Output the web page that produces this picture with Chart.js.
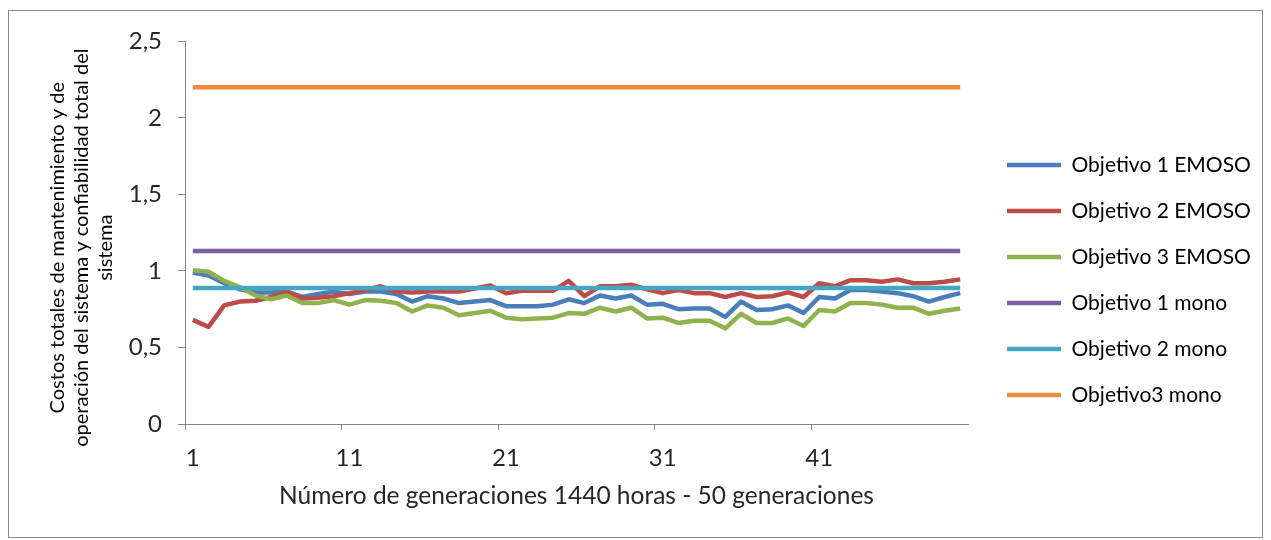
<!DOCTYPE html>
<html>
<head>
<meta charset="utf-8">
<script src="https://cdn.jsdelivr.net/npm/chart.js@4.4.1/dist/chart.umd.min.js"></script>
<style>
  html, body { margin: 0; padding: 0; background: #fff; }
  #frame { position: absolute; left: 8px; top: 10px; width: 1253px; height: 526px; border: 1px solid #8a8a8a; }
  canvas { display: block; }
</style>
</head>
<body>
<div id="frame"><canvas id="chart"></canvas></div>
<script>
const generations = [1, 2, 3, 4, 5, 6, 7, 8, 9, 10, 11, 12, 13, 14, 15, 16, 17, 18, 19, 20,
  21, 22, 23, 24, 25, 26, 27, 28, 29, 30, 31, 32, 33, 34, 35, 36, 37, 38, 39, 40,
  41, 42, 43, 44, 45, 46, 47, 48, 49, 50];

const obj1Emoso = [0.99, 0.97, 0.92, 0.88, 0.86, 0.86, 0.865, 0.83, 0.85, 0.865,
  0.85, 0.865, 0.865, 0.85, 0.80, 0.835, 0.82, 0.79, 0.80, 0.81,
  0.77, 0.77, 0.77, 0.78, 0.815, 0.79, 0.84, 0.82, 0.84, 0.78,
  0.785, 0.75, 0.755, 0.755, 0.70, 0.80, 0.745, 0.75, 0.775, 0.725,
  0.83, 0.82, 0.875, 0.875, 0.865, 0.855, 0.835, 0.80, 0.83, 0.855];

const obj2Emoso = [0.68, 0.635, 0.775, 0.80, 0.805, 0.83, 0.865, 0.82, 0.825, 0.835,
  0.855, 0.875, 0.90, 0.865, 0.86, 0.865, 0.865, 0.865, 0.885, 0.905,
  0.855, 0.87, 0.87, 0.87, 0.935, 0.835, 0.90, 0.90, 0.91, 0.88,
  0.855, 0.875, 0.855, 0.855, 0.83, 0.855, 0.83, 0.835, 0.86, 0.83,
  0.92, 0.90, 0.94, 0.94, 0.93, 0.945, 0.92, 0.92, 0.93, 0.945];

const obj3Emoso = [1.005, 0.995, 0.935, 0.895, 0.84, 0.815, 0.84, 0.79, 0.79, 0.81,
  0.78, 0.81, 0.805, 0.79, 0.735, 0.775, 0.76, 0.71, 0.725, 0.74,
  0.695, 0.685, 0.69, 0.695, 0.725, 0.72, 0.76, 0.735, 0.76, 0.69,
  0.695, 0.66, 0.675, 0.675, 0.625, 0.72, 0.66, 0.66, 0.69, 0.64,
  0.745, 0.735, 0.79, 0.79, 0.78, 0.76, 0.76, 0.72, 0.74, 0.755];

const obj1Mono = [1.13, 1.13, 1.13, 1.13, 1.13, 1.13, 1.13, 1.13, 1.13, 1.13,
  1.13, 1.13, 1.13, 1.13, 1.13, 1.13, 1.13, 1.13, 1.13, 1.13,
  1.13, 1.13, 1.13, 1.13, 1.13, 1.13, 1.13, 1.13, 1.13, 1.13,
  1.13, 1.13, 1.13, 1.13, 1.13, 1.13, 1.13, 1.13, 1.13, 1.13,
  1.13, 1.13, 1.13, 1.13, 1.13, 1.13, 1.13, 1.13, 1.13, 1.13];

const obj2Mono = [0.888, 0.888, 0.888, 0.888, 0.888, 0.888, 0.888, 0.888, 0.888, 0.888,
  0.888, 0.888, 0.888, 0.888, 0.888, 0.888, 0.888, 0.888, 0.888, 0.888,
  0.888, 0.888, 0.888, 0.888, 0.888, 0.888, 0.888, 0.888, 0.888, 0.888,
  0.888, 0.888, 0.888, 0.888, 0.888, 0.888, 0.888, 0.888, 0.888, 0.888,
  0.888, 0.888, 0.888, 0.888, 0.888, 0.888, 0.888, 0.888, 0.888, 0.888];

const obj3Mono = [2.2, 2.2, 2.2, 2.2, 2.2, 2.2, 2.2, 2.2, 2.2, 2.2,
  2.2, 2.2, 2.2, 2.2, 2.2, 2.2, 2.2, 2.2, 2.2, 2.2,
  2.2, 2.2, 2.2, 2.2, 2.2, 2.2, 2.2, 2.2, 2.2, 2.2,
  2.2, 2.2, 2.2, 2.2, 2.2, 2.2, 2.2, 2.2, 2.2, 2.2,
  2.2, 2.2, 2.2, 2.2, 2.2, 2.2, 2.2, 2.2, 2.2, 2.2];

const seriesNames = ['Objetivo 1 EMOSO', 'Objetivo 2 EMOSO', 'Objetivo 3 EMOSO',
  'Objetivo 1 mono', 'Objetivo 2 mono', 'Objetivo3 mono'];
const seriesColors = ['#4a7ebb', '#be4b48', '#8fb24f', '#7d60a0', '#46a5c0', '#f08a3c'];
const yTickLabels = ['0', '0,5', '1', '1,5', '2', '2,5'];
const yTitle = ['Costos totales de mantenimiento y de',
  'operación del sistema y confiabilidad total del', 'sistema'];
const xTitle = 'Número de generaciones 1440 horas - 50 generaciones';

const FONT = 'Lato, "Open Sans", sans-serif';
const AXIS_GRAY = '#868686';

// legend sits a bit further from the plot than Chart.js puts it
const legendNudge = {
  id: 'legendNudge',
  afterLayout(chart) {
    const lg = chart.legend;
    lg.left += 14; lg.right += 14;
    lg.top -= 9; lg.bottom -= 9;
  }
};

// Excel centres the rotated y title a little lower than the plot middle
const yTitleDraw = {
  id: 'yTitleDraw',
  afterDraw(chart) {
    const { ctx, chartArea } = chart;
    const midY = (chartArea.top + chartArea.bottom) / 2 + 15;
    ctx.save();
    ctx.font = '20px ' + FONT;
    ctx.fillStyle = '#000';
    ctx.textAlign = 'center';
    ctx.textBaseline = 'middle';
    yTitle.forEach((line, i) => {
      ctx.save();
      ctx.translate(48.5 + i * 24, midY);
      ctx.rotate(-Math.PI / 2);
      ctx.fillText(line, 0, 0);
      ctx.restore();
    });
    ctx.restore();
  }
};

const allSeries = [obj1Emoso, obj2Emoso, obj3Emoso, obj1Mono, obj2Mono, obj3Mono];
const datasets = allSeries.map((values, i) => ({
  label: seriesNames[i],
  data: values,
  borderColor: seriesColors[i],
  backgroundColor: seriesColors[i],
  borderWidth: 4.5,
  pointRadius: 0,
  tension: 0,
  borderJoinStyle: 'round',
  order: allSeries.length - i
}));

new Chart(document.getElementById('chart'), {
  type: 'line',
  data: { labels: generations, datasets: datasets },
  plugins: [legendNudge, yTitleDraw],
  options: {
    responsive: true,
    maintainAspectRatio: false,
    animation: false,
    layout: { padding: { top: 30, right: 24, bottom: 0, left: 0 } },
    plugins: {
      tooltip: { enabled: false },
      legend: {
        position: 'right',
        maxWidth: 270,
        labels: {
          usePointStyle: true,
          pointStyle: 'line',
          pointStyleWidth: 54,
          boxWidth: 54,
          padding: 25,
          color: '#000',
          font: { family: FONT, size: 21 },
          sort: (a, b) => a.datasetIndex - b.datasetIndex
        }
      }
    },
    scales: {
      x: {
        offset: true,
        afterFit(scale) { scale.height = 113; },
        border: { color: AXIS_GRAY, width: 1 },
        grid: {
          offset: true,
          drawOnChartArea: false,
          tickLength: 6,
          color: ctx => (ctx.index % 10 === 0 ? AXIS_GRAY : 'rgba(0,0,0,0)')
        },
        ticks: {
          autoSkip: false,
          maxRotation: 0,
          padding: 14,
          color: '#262626',
          font: { family: FONT, size: 24 },
          callback: (v, i) => (i % 10 === 0 ? String(generations[i]) : '')
        },
        title: {
          display: true,
          text: xTitle,
          color: '#262626',
          font: { family: FONT, size: 24.5 },
          padding: { top: 0, bottom: 26 }
        }
      },
      y: {
        min: 0,
        max: 2.5,
        afterFit(scale) { scale.width = 176; },
        border: { color: AXIS_GRAY, width: 1 },
        grid: { drawOnChartArea: false, tickLength: 7, color: AXIS_GRAY },
        ticks: {
          stepSize: 0.5,
          padding: 16,
          color: '#262626',
          font: { family: FONT, size: 24 },
          callback: (v, i) => yTickLabels[i]
        }
      }
    }
  }
});
</script>
</body>
</html>
